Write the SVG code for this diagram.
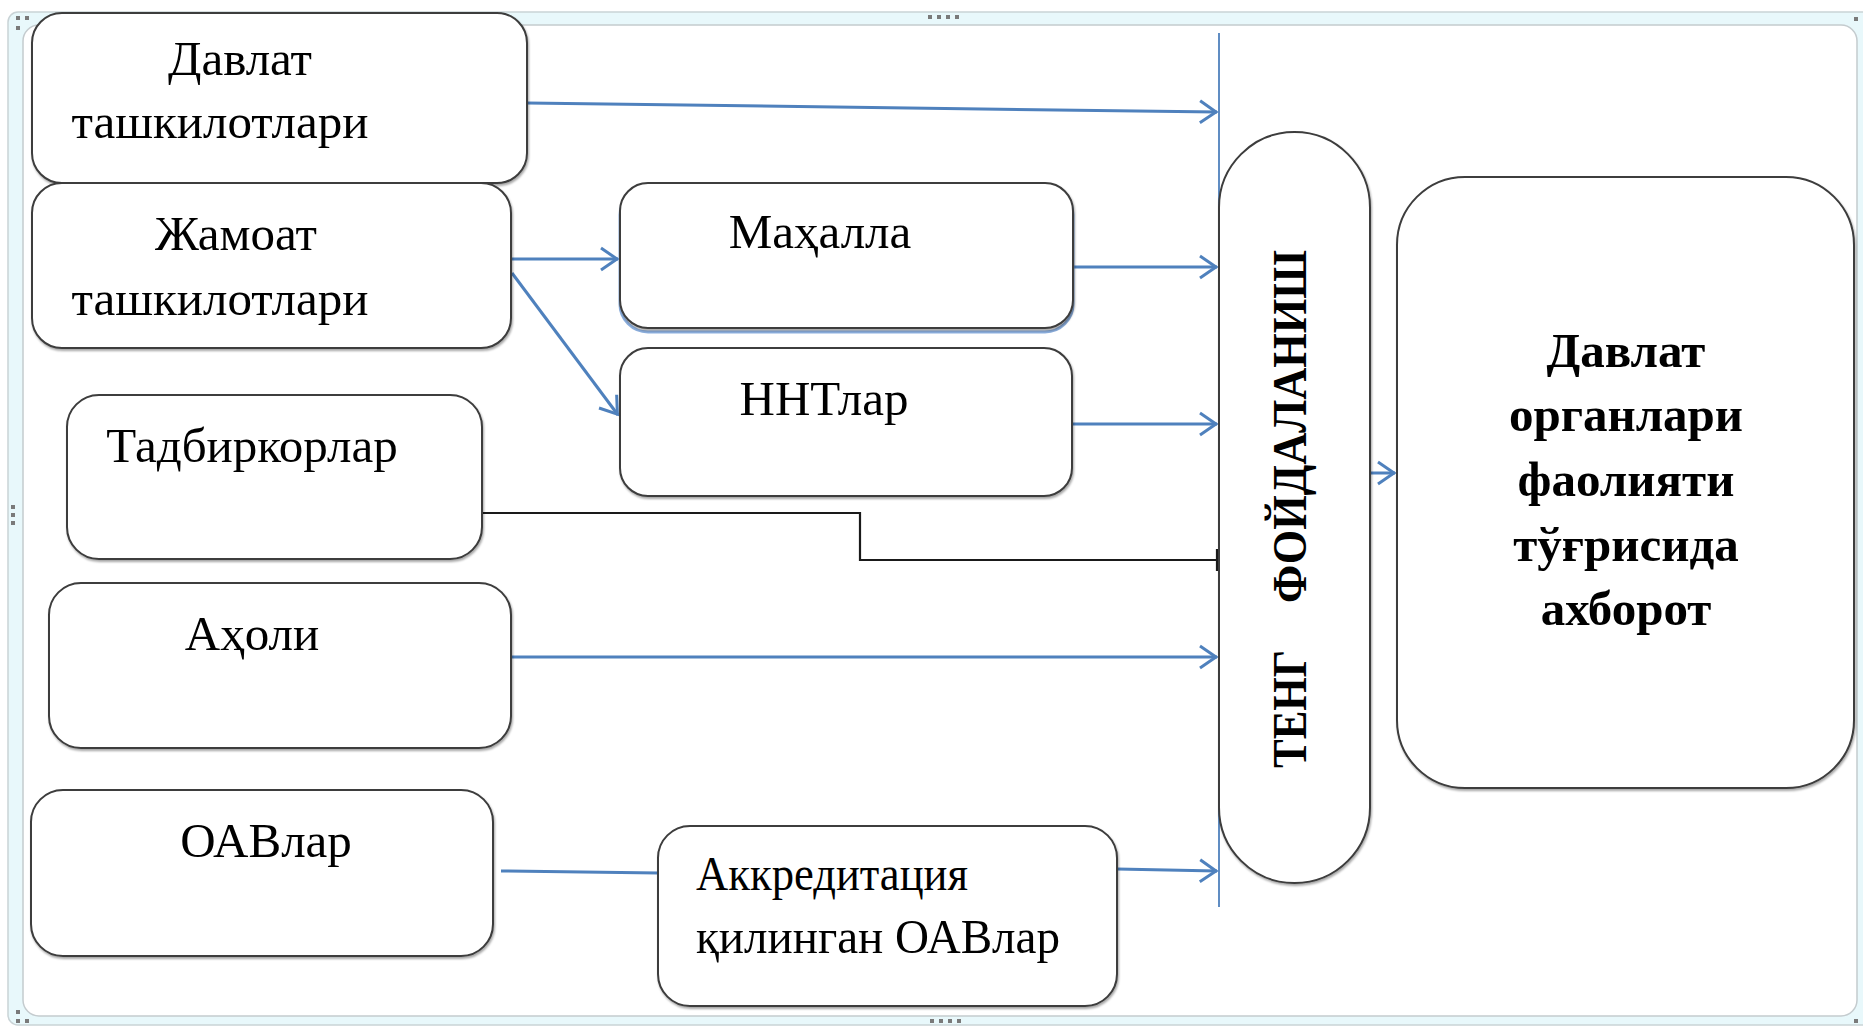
<svg xmlns="http://www.w3.org/2000/svg" width="1863" height="1027" viewBox="0 0 1863 1027">
<defs>
<style>
.box{fill:#fff;stroke:#3c3c3c;stroke-width:2;filter:url(#sh)}
.t{font-family:"Liberation Serif","Times New Roman",serif;font-size:49px;fill:#000}
.b{font-family:"Liberation Serif","Times New Roman",serif;font-size:49px;font-weight:bold;fill:#000}
.c{fill:none;stroke:#4f81bd;stroke-width:3}
.dot{fill:#7a7a7a}
</style>
<filter id="sh" x="-5%" y="-5%" width="110%" height="115%">
<feDropShadow dx="1" dy="2" stdDeviation="1" flood-color="#000" flood-opacity="0.35"/>
</filter>
<marker id="ah" viewBox="-20 -14 24 28" refX="0" refY="0" markerWidth="24" markerHeight="28" markerUnits="userSpaceOnUse" orient="auto">
<path d="M-17,-11 L-1,0 L-17,11" fill="none" stroke="#4f81bd" stroke-width="3"/>
</marker>
</defs>

<g id="frame">
<rect x="8" y="12" width="1870" height="1013" rx="10" fill="#e8f8fb" stroke="#c9d3d6" stroke-width="1.5"/>
<rect x="23" y="25" width="1834" height="991" rx="16" fill="#fff" stroke="#c4cbce" stroke-width="1.5"/>
<rect class="dot" x="16" y="16" width="4" height="4"/><rect class="dot" x="25" y="16" width="4" height="4"/><rect class="dot" x="16" y="26" width="4" height="4"/>
<rect class="dot" x="928" y="15" width="4" height="4"/><rect class="dot" x="937" y="15" width="4" height="4"/><rect class="dot" x="946" y="15" width="4" height="4"/><rect class="dot" x="955" y="15" width="4" height="4"/>
<rect class="dot" x="1854" y="17" width="4" height="4"/>
<rect class="dot" x="11" y="505" width="4" height="4"/><rect class="dot" x="11" y="513" width="4" height="4"/><rect class="dot" x="11" y="521" width="4" height="4"/>
<rect class="dot" x="16" y="1010" width="4" height="4"/><rect class="dot" x="16" y="1019" width="4" height="4"/><rect class="dot" x="25" y="1019" width="4" height="4"/>
<rect class="dot" x="930" y="1019" width="4" height="4"/><rect class="dot" x="939" y="1019" width="4" height="4"/><rect class="dot" x="948" y="1019" width="4" height="4"/><rect class="dot" x="957" y="1019" width="4" height="4"/>
<rect class="dot" x="1854" y="1019" width="4" height="4"/>
</g>

<g id="connectors">
<path d="M1219,33 V907" fill="none" stroke="#4f81bd" stroke-width="1.8"/>
<path class="c" d="M527,103 L1217,112" marker-end="url(#ah)"/>
<path class="c" d="M512,259 L618,259" marker-end="url(#ah)"/>
<path class="c" d="M512,273 L618,415" marker-end="url(#ah)"/>
<path class="c" d="M1073,267 L1217,267" marker-end="url(#ah)"/>
<path class="c" d="M1073,424 L1217,424" marker-end="url(#ah)"/>
<path d="M482,513 H860 V560 H1217 M1217,549 V571" fill="none" stroke="#1a1a1a" stroke-width="2.2"/>
<path class="c" d="M511,657 L1217,657" marker-end="url(#ah)"/>
<path class="c" d="M501,871 L658,873"/>
<path class="c" d="M1117,869 L1217,871" marker-end="url(#ah)"/>
<path class="c" d="M1370,473 L1395,473" marker-end="url(#ah)"/>
</g>

<g id="n-davlat-tashkilot">
<rect class="box" x="32" y="13" width="495" height="170" rx="30"/>
<text class="t" x="240" y="75" text-anchor="middle">Давлат</text>
<text class="t" x="220" y="138" text-anchor="middle">ташкилотлари</text>
</g>

<g id="n-jamoat">
<rect class="box" x="32" y="183" width="479" height="165" rx="30"/>
<text class="t" x="236" y="250" text-anchor="middle">Жамоат</text>
<text class="t" x="220" y="315" text-anchor="middle">ташкилотлари</text>
</g>

<g id="n-mahalla">
<rect x="620" y="187" width="453" height="145" rx="28" fill="none" stroke="#6f9bd6" stroke-width="3" opacity="0.8"/>
<rect class="box" x="620" y="183" width="453" height="145" rx="28"/>
<text class="t" x="820" y="248" text-anchor="middle">Маҳалла</text>
</g>

<g id="n-nnt">
<rect class="box" x="620" y="348" width="452" height="148" rx="28"/>
<text class="t" x="824" y="415" text-anchor="middle">ННТлар</text>
</g>

<g id="n-tadbirkor">
<rect class="box" x="67" y="395" width="415" height="164" rx="32"/>
<text class="t" x="252" y="462" text-anchor="middle">Тадбиркорлар</text>
</g>

<g id="n-aholi">
<rect class="box" x="49" y="583" width="462" height="165" rx="32"/>
<text class="t" x="252" y="650" text-anchor="middle">Аҳоли</text>
</g>

<g id="n-oav">
<rect class="box" x="31" y="790" width="462" height="166" rx="32"/>
<text class="t" x="266" y="857" text-anchor="middle">ОАВлар</text>
</g>

<g id="n-akkred">
<rect class="box" x="658" y="826" width="459" height="180" rx="32"/>
<text class="t" x="696" y="890" font-size="44" textLength="272" lengthAdjust="spacingAndGlyphs">Аккредитация</text>
<text class="t" x="696" y="953" font-size="44" textLength="364" lengthAdjust="spacingAndGlyphs">қилинган ОАВлар</text>
</g>

<g id="n-teng">
<rect class="box" x="1219" y="132" width="151" height="751" rx="75.5"/>
<text class="b" transform="translate(1306,768) rotate(-90)" font-size="47" textLength="118" lengthAdjust="spacingAndGlyphs">ТЕНГ</text>
<text class="b" transform="translate(1306,603) rotate(-90)" font-size="47" textLength="353" lengthAdjust="spacingAndGlyphs">ФОЙДАЛАНИШ</text>
</g>

<g id="n-axborot">
<rect class="box" x="1397" y="177" width="457" height="611" rx="68"/>
<text class="b" x="1626" y="367" text-anchor="middle">Давлат</text>
<text class="b" x="1626" y="431" text-anchor="middle">органлари</text>
<text class="b" x="1626" y="496" text-anchor="middle">фаолияти</text>
<text class="b" x="1626" y="561" text-anchor="middle">тўғрисида</text>
<text class="b" x="1626" y="625" text-anchor="middle">ахборот</text>
</g>
</svg>
